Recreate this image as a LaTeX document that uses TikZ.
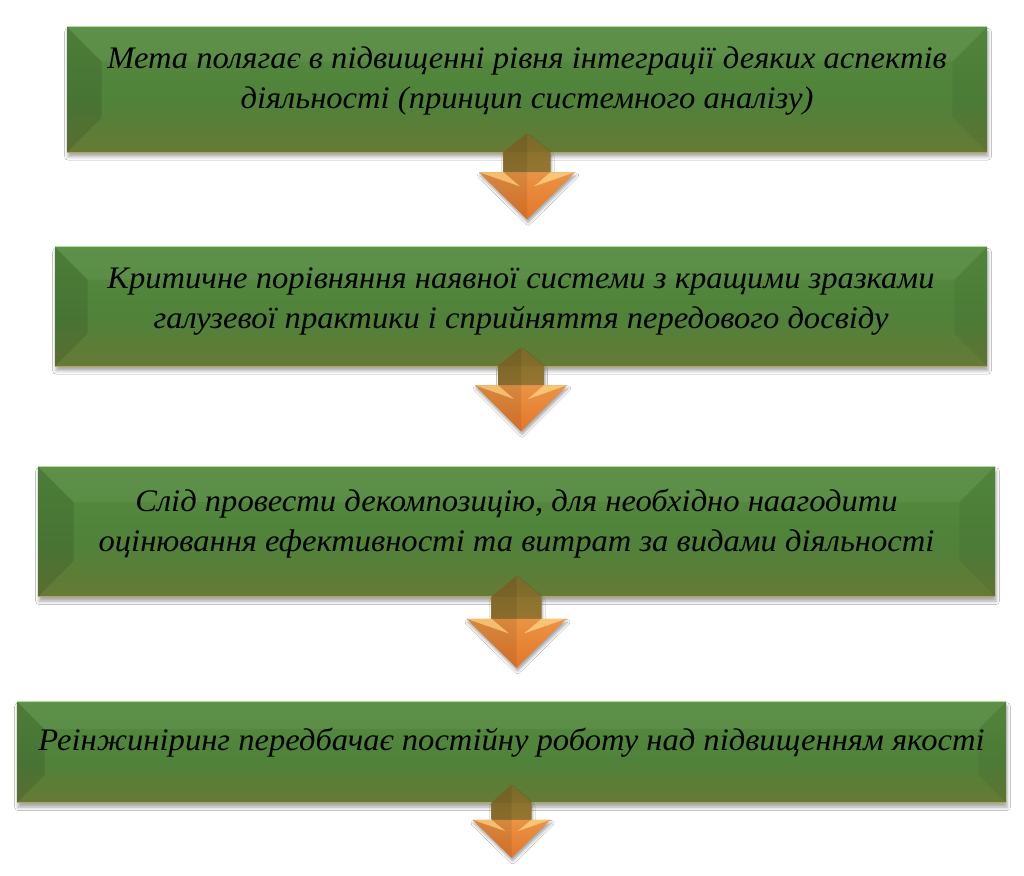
\documentclass[tikz,border=0pt]{standalone}
\usepackage{fontspec}
\setmainfont{Liberation Serif}[FakeStretch=1.04]
\usetikzlibrary{calc,shadows.blur}
\definecolor{bxA}{RGB}{132,119,48}
\definecolor{bxB}{RGB}{114,117,50}
\definecolor{bxC}{RGB}{80,130,58}
\definecolor{bxD}{RGB}{86,140,64}
\definecolor{bxE}{RGB}{125,183,100}
\definecolor{bxF}{RGB}{168,220,138}
\definecolor{shA}{RGB}{160,120,50}
\definecolor{shB}{RGB}{120,110,42}
\definecolor{hdA}{RGB}{226,104,28}
\definecolor{hdB}{RGB}{236,162,82}
\definecolor{wingc}{RGB}{250,200,120}
\definecolor{edgetop}{RGB}{176,226,150}
\definecolor{edgebot}{RGB}{180,164,90}
\pgfdeclareverticalshading{boxshade}{100bp}{color(0bp)=(bxA); color(14bp)=(bxB); color(45bp)=(bxC); color(78bp)=(bxD); color(93bp)=(bxE); color(100bp)=(bxF)}
\pgfdeclareverticalshading{shaftshade}{100bp}{color(0bp)=(shA); color(100bp)=(shB)}
\pgfdeclareverticalshading{headshade}{100bp}{color(0bp)=(hdA); color(100bp)=(hdB)}
\tikzset{
  boxstyle/.style={rectangle, inner sep=0pt, shading=boxshade,
    blur shadow={shadow xshift=0.8pt, shadow yshift=-3.5pt, shadow blur radius=2.5pt, shadow opacity=35}},
  leftbev/.style={fill=black, opacity=0.10},
  rightbev/.style={fill=black, opacity=0.05},
  topbev/.style={fill=white, opacity=0.05},
  txt/.style={inner sep=0pt, align=center, text=black,
    font=\fontsize{23.5}{30}\selectfont\itshape},
  arrshadow/.style={blur shadow={shadow xshift=0.8pt, shadow yshift=-2.5pt, shadow blur radius=2pt, shadow opacity=35}},
}
\newcommand\mybevbox[6]{% name, cx, cy, width, height, bevel
  \node[boxstyle, shade, minimum width={#4*0.75pt}, minimum height={#5*0.75pt}] (#1) at (#2,#3) {};
  \fill[leftbev] (#1.north west) -- ++(#6,#6) -- ($(#1.south west)+(#6,-#6)$) -- (#1.south west) -- cycle;
  \fill[rightbev] (#1.north east) -- ++(-#6,#6) -- ($(#1.south east)+(-#6,-#6)$) -- (#1.south east) -- cycle;
  \fill[topbev] (#1.north west) -- ++(#6,#6) -- ($(#1.north east)+(-#6,#6)$) -- (#1.north east) -- cycle;
  \draw[edgetop, line width=0.8pt] (#1.north west) -- (#1.north east);
  \draw[edgebot, line width=0.8pt] (#1.south west) -- (#1.south east);
}
\newcommand\mydarrow[6]{% box, peak, head y, tip, half shaft, half head
  \begin{scope}[shift={(#1.south)}]
    \path[arrshadow] (0,#2) -- (-#5,0) -- (-#5,#3) -- (-#6,#3) -- (0,#4) -- (#6,#3) -- (#5,#3) -- (#5,0) -- cycle;
    \shade[shading=shaftshade] (0,#2) -- (-#5,0) -- (-#5,#3) -- (#5,#3) -- (#5,0) -- cycle;
    \shade[shading=headshade] (-#6,#3) -- (0,#4) -- (#6,#3) -- cycle;
    \fill[black, opacity=0.08] (0,#2) -- (-#5,0) -- (-#5,#3) -- (-#6,#3) -- (0,#4) -- cycle;
    \fill[black, opacity=0.05] (0,#2) -- (-#5,0) -- (#5,0) -- cycle;
    \fill[wingc, opacity=0.85] (-#6,#3) -- (-#5,#3) -- ({-0.3*#5},{#3+0.3*(#4-#3)}) -- cycle;
    \fill[wingc, opacity=0.95] (#6,#3) -- (#5,#3) -- ({0.3*#5},{#3+0.3*(#4-#3)}) -- cycle;
  \end{scope}
}
\begin{document}
\begin{tikzpicture}[x=0.75pt, y=-0.75pt]
\useasboundingbox (0,0) rectangle (1024,875);
\fill[white] (0,0) rectangle (1024,875);

\mybevbox{b1}{527}{89.5}{920}{125}{35}
\mybevbox{b2}{521}{306.5}{932}{119}{33}
\mybevbox{b3}{516.5}{531.5}{957}{130}{36}
\mybevbox{b4}{511.5}{752}{989}{101}{28}

\node[txt] (t1) at (527,80) {\strut Мета полягає в підвищенні рівня інтеграції деяких аспектів\\\strut діяльності (принцип системного аналізу)};
\node[txt] (t2) at (521,300) {\strut Критичне порівняння наявної системи з кращими зразками\\\strut галузевої практики і сприйняття передового досвіду};
\node[txt] (t3) at (516.5,523) {\strut Слід провести декомпозицію, для необхідно наагодити\\\strut оцінювання ефективності та витрат за видами діяльності};
\node[txt] (t4) at (511.5,742) {\strut Реінжиніринг передбачає постійну роботу над підвищенням якості};

\mydarrow{b1}{-19}{20}{67}{23.5}{48}
\mydarrow{b2}{-19}{19}{65}{23}{46}
\mydarrow{b3}{-21}{22}{71}{25}{50}
\mydarrow{b4}{-18}{17}{55}{20}{39}
\end{tikzpicture}
\end{document}
